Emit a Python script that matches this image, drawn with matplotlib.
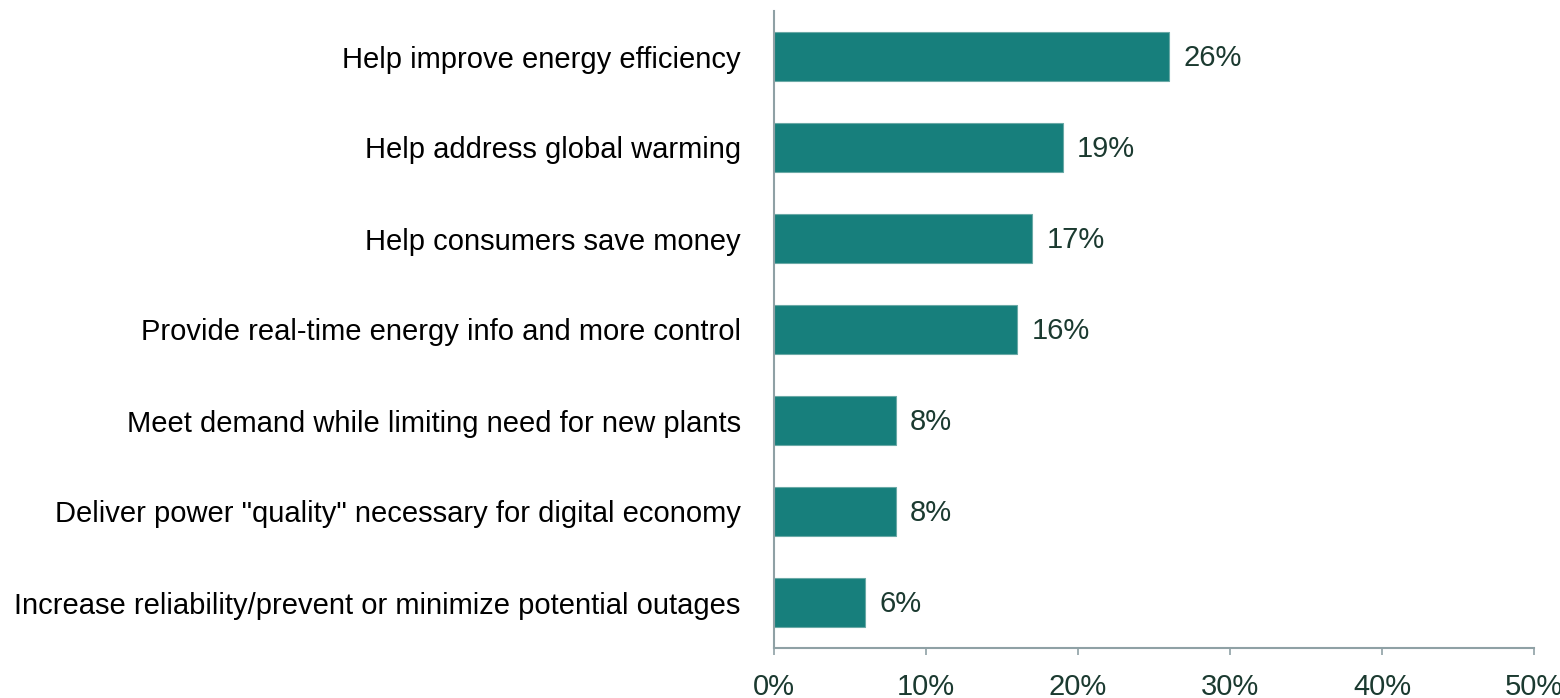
import matplotlib
matplotlib.use("Agg")
import matplotlib.pyplot as plt

categories = [
    "Help improve energy efficiency",
    "Help address global warming",
    "Help consumers save money",
    "Provide real-time energy info and more control",
    "Meet demand while limiting need for new plants",
    "Deliver power \"quality\" necessary for digital economy",
    "Increase reliability/prevent or minimize potential outages",
]
values = [26, 19, 17, 16, 8, 8, 6]
x_ticks = [0, 10, 20, 30, 40, 50]
x_tick_labels = ["0%", "10%", "20%", "30%", "40%", "50%"]

plt.rcParams['font.family'] = ['Liberation Sans', 'DejaVu Sans']

fig = plt.figure(figsize=(15.6, 6.98), dpi=100)
ax = fig.add_axes([774/1560, 1-648/698, (1534-774)/1560, (648-11)/698])

bar_color = "#177f7c"
text_dark = "#1b3a30"
axis_color = "#8fa1a5"
fs = 21

ypos = list(range(len(categories)))
ax.barh(ypos, values, height=0.53, color=bar_color, edgecolor="#6aa9a6", linewidth=0.8, zorder=2)
for y, v in zip(ypos, values):
    ax.text(v + 0.95, y + 0.02, f"{v}%", va="center", ha="left", fontsize=fs, color=text_dark)

ax.set_xlim(0, 50)
ax.set_ylim(6.5, -0.5)
ax.set_yticks(ypos)
ax.set_yticklabels(categories, fontsize=fs, color="black")
ax.tick_params(axis="y", length=0, pad=24)
ax.set_xticks(x_ticks)
ax.set_xticklabels(x_tick_labels, fontsize=fs, color=text_dark)
ax.tick_params(axis="x", length=5, width=1.2, color=axis_color, pad=13, direction="out")

for s in ["top", "right"]:
    ax.spines[s].set_visible(False)
for s in ["left", "bottom"]:
    ax.spines[s].set_color(axis_color)
    ax.spines[s].set_linewidth(1.5)
ax.spines["left"].set_zorder(3)

fig.savefig("out.png", dpi=100)
